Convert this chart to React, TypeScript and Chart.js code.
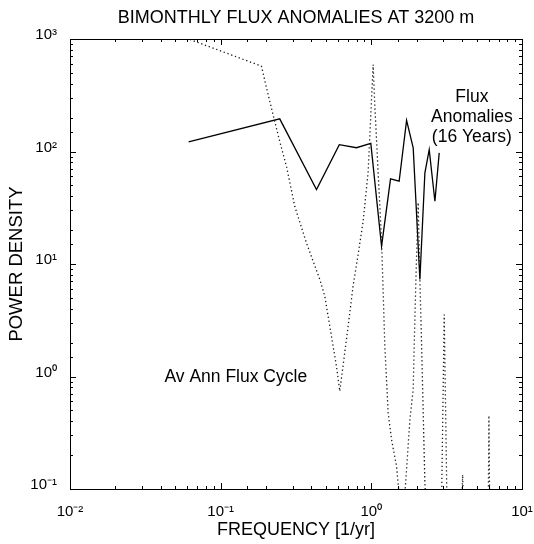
import React, { useEffect, useRef } from 'react';
import { Chart, registerables } from 'chart.js';

Chart.register(...registerables);

const TITLE = 'BIMONTHLY FLUX ANOMALIES AT 3200 m';
const X_TITLE = 'FREQUENCY [1/yr]';
const Y_TITLE = 'POWER DENSITY';

// Solid line: Flux Anomalies (16 Years)
const anomalyFreq = [0.0613, 0.2466, 0.4325, 0.613, 0.797, 0.992, 1.169, 1.341, 1.53, 1.714, 1.896, 2.1, 2.267, 2.422, 2.642, 2.822];
const anomalyPower = [122, 195, 45.9, 115, 108, 118, 14.4, 57.2, 54.4, 189, 108, 7.27, 64.7, 104, 36.1, 97.3];

// Dotted line: Av Ann Flux Cycle
const cycleFreq = [
  0.0625, 0.1864, 0.2012, 0.2226, 0.2466, 0.2745, 0.3102, 0.371, 0.4548, 0.491, 0.53, 0.587, 0.6175,
  0.7015, 0.757, 0.817, 0.882, 0.952, 1.028, 1.055, 1.11, 1.169, 1.229, 1.293, 1.362, 1.47, 1.523,
  1.6, 1.695, 1.803, 1.896, 1.925, 1.976, 2.046, 2.1, 2.156, 2.209, 2.267, 2.4, 2.85, 2.93, 3.046,
  3.17, 3.3, 3.9, 4.0, 4.036, 4.07, 4.3, 5.8, 5.98, 6.035, 6.09, 6.5,
];
const cyclePower = [
  990, 574, 371, 213, 123, 72, 32.6, 15.4, 7.3, 5.17, 2.8, 1.23, 0.74,
  2.8, 6.4, 12.1, 23.9, 65, 593, 251, 65, 16.5, 1.86, 0.475, 0.275, 0.159, 0.095,
  0.04, 0.121, 0.414, 0.768, 1.86, 7.27, 35.2, 7.27, 1.86, 0.475, 0.113, 0.03, 0.03, 0.09, 3.55,
  0.09, 0.03, 0.03, 0.09, 0.134, 0.09, 0.03, 0.03, 0.09, 0.45, 0.09, 0.03,
];

const X_MIN = 0.01;
const X_MAX = 10;
const Y_MIN = 0.1;
const Y_MAX = 1000;

// Text notes anchored in data coordinates
const cycleNote = { text: ['Av Ann Flux Cycle'], f: 0.126, v: 0.98 };
const anomalyNote = { text: ['Flux', 'Anomalies', '(16 Years)'], f: 4.65, v: 302 };

const FONT = '"Liberation Sans", Arial, Helvetica, sans-serif';

const SUP: Record<string, string> = {
  '-': '\u207B', '0': '\u2070', '1': '\u00B9', '2': '\u00B2', '3': '\u00B3',
  '4': '\u2074', '5': '\u2075', '6': '\u2076', '7': '\u2077', '8': '\u2078', '9': '\u2079',
};

function decadeLabel(value: number): string {
  const e = Math.log10(value);
  const r = Math.round(e);
  if (Math.abs(e - r) > 1e-6) return '';
  return '10' + String(r).split('').map((c) => SUP[c] || c).join('');
}

function isDecade(value: number): boolean {
  const e = Math.log10(value);
  return Math.abs(e - Math.round(e)) < 1e-6;
}

const framePlugin = {
  id: 'frame',
  afterDatasetsDraw(chart: any) {
    const { ctx, chartArea: a, scales } = chart;
    ctx.save();
    ctx.strokeStyle = '#000';
    ctx.lineWidth = 1;
    ctx.strokeRect(a.left + 0.5, a.top + 0.5, a.right - a.left, a.bottom - a.top);
    ctx.beginPath();
    for (const t of scales.x.ticks) {
      const px = Math.round(scales.x.getPixelForValue(t.value)) + 0.5;
      const len = isDecade(t.value) ? 6 : 3;
      ctx.moveTo(px, a.bottom);
      ctx.lineTo(px, a.bottom - len);
      ctx.moveTo(px, a.top);
      ctx.lineTo(px, a.top + len);
    }
    for (const t of scales.y.ticks) {
      const py = Math.round(scales.y.getPixelForValue(t.value)) + 0.5;
      const len = isDecade(t.value) ? 6 : 3;
      ctx.moveTo(a.left, py);
      ctx.lineTo(a.left + len, py);
      ctx.moveTo(a.right, py);
      ctx.lineTo(a.right - len, py);
    }
    ctx.stroke();

    ctx.fillStyle = '#000';
    ctx.font = '17.5px ' + FONT;
    ctx.textAlign = 'center';
    ctx.textBaseline = 'middle';
    for (const note of [cycleNote, anomalyNote]) {
      const x = scales.x.getPixelForValue(note.f);
      const y = scales.y.getPixelForValue(note.v);
      note.text.forEach((line, i) => ctx.fillText(line, x, y + i * 20));
    }
    ctx.restore();
  },
};

export default function App() {
  const ref = useRef<HTMLCanvasElement | null>(null);

  useEffect(() => {
    if (!ref.current) return;
    const chart = new Chart(ref.current, {
      type: 'line',
      data: {
        datasets: [
          {
            label: 'Av Ann Flux Cycle',
            data: cycleFreq.map((f, i) => ({ x: f, y: cyclePower[i] })),
            borderColor: '#1a1a1a',
            borderWidth: 1.3,
            borderDash: [1.3, 2.7],
            pointRadius: 0,
            tension: 0,
            fill: false,
          },
          {
            label: 'Flux Anomalies (16 Years)',
            data: anomalyFreq.map((f, i) => ({ x: f, y: anomalyPower[i] })),
            borderColor: '#000',
            borderWidth: 1.3,
            pointRadius: 0,
            tension: 0,
            fill: false,
          },
        ],
      },
      options: {
        animation: false,
        responsive: true,
        maintainAspectRatio: false,
        layout: { padding: { left: 0, right: 12, top: 0, bottom: 0 } },
        plugins: {
          legend: { display: false },
          tooltip: { enabled: false },
          title: {
            display: true,
            text: TITLE,
            fullSize: false,
            color: '#000',
            font: { family: FONT, size: 18, weight: 'normal' },
            padding: { top: 7, bottom: 10.4 },
          },
        },
        scales: {
          x: {
            type: 'logarithmic',
            min: X_MIN,
            max: X_MAX,
            grid: { display: false, drawTicks: false },
            border: { display: false },
            afterFit: (s: any) => {
              s.height = 55;
              s.paddingLeft = 0;
              s.paddingRight = 0;
            },
            ticks: {
              autoSkip: false,
              maxRotation: 0,
              padding: 14,
              color: '#000',
              font: { family: FONT, size: 15 },
              callback: (v: any) => decadeLabel(Number(v)),
            },
            title: {
              display: true,
              text: X_TITLE,
              color: '#000',
              font: { family: FONT, size: 18 },
              padding: { top: 0, bottom: 3 },
            },
          },
          y: {
            type: 'logarithmic',
            min: Y_MIN,
            max: Y_MAX,
            grid: { display: false, drawTicks: false },
            border: { display: false },
            afterFit: (s: any) => {
              s.width = 70;
              s.paddingTop = 0;
              s.paddingBottom = 0;
            },
            ticks: {
              autoSkip: false,
              padding: 13,
              labelOffset: -4,
              color: '#000',
              font: { family: FONT, size: 15 },
              callback: (v: any) => decadeLabel(Number(v)),
            },
            title: {
              display: true,
              text: Y_TITLE,
              color: '#000',
              font: { family: FONT, size: 18.5 },
              padding: { top: 6, bottom: 0 },
            },
          },
        },
      },
      plugins: [framePlugin],
    });
    return () => chart.destroy();
  }, []);

  return (
    <div style={{ position: 'absolute', left: 0, top: 0, width: 534, height: 544, background: '#fff' }}>
      <canvas ref={ref} />
    </div>
  );
}
